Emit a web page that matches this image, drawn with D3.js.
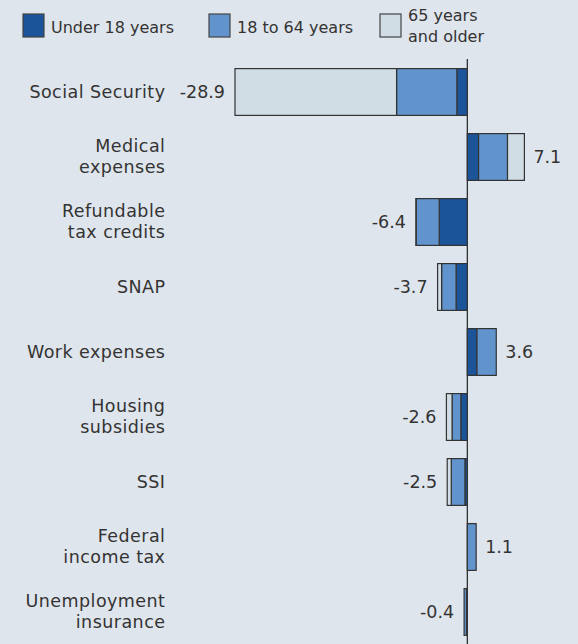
<!DOCTYPE html>
<html>
<head>
<meta charset="utf-8">
<script src="https://cdn.jsdelivr.net/npm/d3@7"></script>
<style>
  html, body { margin: 0; padding: 0; background: #dfe5ec; }
  svg { display: block; }
  text { font-family: "DejaVu Sans", "Open Sans", sans-serif; fill: #333; }
</style>
</head>
<body>
<svg id="chart" width="578" height="644"></svg>
<script>
const categories = [
  ["Social Security"],
  ["Medical", "expenses"],
  ["Refundable", "tax credits"],
  ["SNAP"],
  ["Work expenses"],
  ["Housing", "subsidies"],
  ["SSI"],
  ["Federal", "income tax"],
  ["Unemployment", "insurance"]
];
const under18   = [-1.3, 1.4, -3.5, -1.4, 1.2, -0.8, -0.3, 0.0, -0.1];
const age18to64 = [-7.5, 3.6, -2.85, -1.8, 2.4, -1.1, -1.7, 1.1, -0.3];
const age65plus = [-20.1, 2.1, -0.05, -0.5, 0.0, -0.7, -0.5, 0.0, 0.0];
const totals    = [-28.9, 7.1, -6.4, -3.7, 3.6, -2.6, -2.5, 1.1, -0.4];
const seriesNames = ["Under 18 years", "18 to 64 years", "65 years and older"];
const seriesColors = ["#1b5498", "#6194cc", "#d0dde5"];

const svg = d3.select("#chart");
const W = 578, H = 644;
svg.append("rect").attr("width", W).attr("height", H).attr("fill", "#dfe5ec");

const ids = categories.map((c, i) => i);
const y = d3.scaleBand().domain(ids).range([59.5, 644.5]).paddingInner(0.28).paddingOuter(0.14);
const x = d3.scaleLinear().domain([-28.9, 7.1]).range([235, 524.4]);

const series = [under18, age18to64, age65plus];

// stacked segments, outward from zero
const segs = [];
ids.forEach(i => {
  let pos = 0, neg = 0;
  series.forEach((s, k) => {
    const v = s[i];
    if (v === 0) return;
    let a, b;
    if (v > 0) { a = pos; b = pos + v; pos = b; }
    else { a = neg; b = neg + v; neg = b; }
    segs.push({ i, k, a, b });
  });
});

// zero line
svg.append("line")
  .attr("x1", x(0)).attr("x2", x(0))
  .attr("y1", 59).attr("y2", H)
  .attr("stroke", "#222").attr("stroke-width", 1.2);

svg.append("g").selectAll("rect").data(segs).join("rect")
  .attr("x", d => Math.min(x(d.a), x(d.b)))
  .attr("width", d => Math.abs(x(d.b) - x(d.a)))
  .attr("y", d => y(d.i))
  .attr("height", y.bandwidth())
  .attr("fill", d => seriesColors[d.k])
  .attr("stroke", "#333")
  .attr("stroke-width", 1.2);

// category labels
const FS = 17.5, LS = 0.45;
const lab = svg.append("g").selectAll("text").data(ids).join("text")
  .attr("text-anchor", "end")
  .attr("font-size", FS)
  .attr("letter-spacing", LS)
  .attr("y", i => y(i) + y.bandwidth() / 2);
lab.each(function(i) {
  const lines = categories[i];
  const t = d3.select(this);
  const lh = 21.7;
  const off = -(lines.length - 1) * lh / 2;
  lines.forEach((l, j) => {
    t.append("tspan").attr("x", 165 + LS).attr("dy", j === 0 ? off + 5.5 : lh).text(l);
  });
});

// value labels
svg.append("g").selectAll("text").data(ids).join("text")
  .attr("font-size", FS)
  .attr("text-anchor", i => totals[i] < 0 ? "end" : "start")
  .attr("x", i => {
    let pos = 0, neg = 0;
    series.forEach(s => { if (s[i] > 0) pos += s[i]; else neg += s[i]; });
    return totals[i] < 0 ? x(neg) - 10 : x(pos) + 9;
  })
  .attr("y", i => y(i) + y.bandwidth() / 2 + 6)
  .text(i => totals[i].toFixed(1));

// legend
const legend = svg.append("g");
const lx = [23, 209, 380];
seriesNames.forEach((n, k) => {
  legend.append("rect")
    .attr("x", lx[k]).attr("y", 14).attr("width", 21).attr("height", 23)
    .attr("fill", seriesColors[k]).attr("stroke", "#444").attr("stroke-width", 1.2);
  const t = legend.append("text").attr("font-size", 16).attr("x", lx[k] + 28);
  if (k < 2) {
    t.attr("y", 33).text(n);
  } else {
    t.append("tspan").attr("x", lx[k] + 28).attr("y", 21).text("65 years");
    t.append("tspan").attr("x", lx[k] + 28).attr("y", 42).text("and older");
  }
});
</script>
</body>
</html>
